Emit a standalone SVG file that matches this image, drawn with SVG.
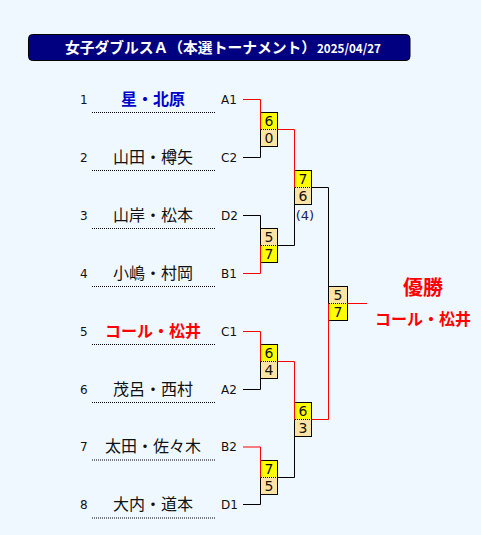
<svg xmlns="http://www.w3.org/2000/svg" width="481" height="535" viewBox="0 0 481 535">
<style>
.num{font-family:"DejaVu Sans",Verdana,sans-serif;font-size:12px;fill:#111}
.seed{font-family:"DejaVu Sans",Verdana,sans-serif;font-size:12px;fill:#111}
.name{font-family:"Noto Sans CJK JP",sans-serif;font-size:16px;fill:#111;text-anchor:middle}
.dot{stroke:#000;stroke-width:1;stroke-dasharray:1,1;fill:none}
.sc{font-family:"DejaVu Sans",Verdana,sans-serif;font-size:14px;fill:#111;text-anchor:middle}
.win{fill:#ffff00}
.lose{fill:#ffe4a3}
.frame{fill:none;stroke:#000;stroke-width:1}
.mid{stroke:#000;stroke-width:1;stroke-dasharray:1,1}
.blk{fill:none;stroke:#000;stroke-width:1}
.red{fill:none;stroke:#ff0000;stroke-width:1}
</style>
<rect x="0" y="0" width="481" height="535" fill="#f0f8ff"/>
<g id="title">
<rect x="28.5" y="34.5" width="381.5" height="26" rx="4" fill="#000080" stroke="#000" stroke-width="1"/>
<text x="65" y="52.5" font-family="Noto Sans CJK JP,sans-serif" font-weight="bold" fill="#fff" font-size="14.8px" textLength="251" lengthAdjust="spacingAndGlyphs">女子ダブルスＡ（本選トーナメント）</text>
<text x="317" y="52.5" font-family="Noto Sans CJK JP,sans-serif" font-weight="bold" fill="#fff" font-size="12.5px" textLength="64" lengthAdjust="spacingAndGlyphs">2025/04/27</text>
</g>
<g id="entries">
<g id="p1"><text class="num" x="80" y="103.5">1</text><text class="name" x="153" y="104.5" font-weight="bold" style="fill:#0000cd">星・北原</text><text class="seed" x="221" y="103.5">A1</text><line class="dot" x1="92" y1="112.5" x2="215" y2="112.5"/></g>
<g id="p2"><text class="num" x="80" y="161.5">2</text><text class="name" x="153" y="162.5">山田・樽矢</text><text class="seed" x="221" y="161.5">C2</text><line class="dot" x1="92" y1="170.5" x2="215" y2="170.5"/></g>
<g id="p3"><text class="num" x="80" y="219.5">3</text><text class="name" x="153" y="220.5">山岸・松本</text><text class="seed" x="221" y="219.5">D2</text><line class="dot" x1="92" y1="228.5" x2="215" y2="228.5"/></g>
<g id="p4"><text class="num" x="80" y="277.5">4</text><text class="name" x="153" y="278.5">小嶋・村岡</text><text class="seed" x="221" y="277.5">B1</text><line class="dot" x1="92" y1="286.5" x2="215" y2="286.5"/></g>
<g id="p5"><text class="num" x="80" y="335.5">5</text><text class="name" x="153" y="336.5" font-weight="bold" style="fill:#ff0000">コール・松井</text><text class="seed" x="221" y="335.5">C1</text><line class="dot" x1="92" y1="344.5" x2="215" y2="344.5"/></g>
<g id="p6"><text class="num" x="80" y="393.5">6</text><text class="name" x="153" y="394.5">茂呂・西村</text><text class="seed" x="221" y="393.5">A2</text><line class="dot" x1="92" y1="402.5" x2="215" y2="402.5"/></g>
<g id="p7"><text class="num" x="80" y="451">7</text><text class="name" x="153" y="452">太田・佐々木</text><text class="seed" x="221" y="451">B2</text><line class="dot" x1="92" y1="460" x2="215" y2="460"/></g>
<g id="p8"><text class="num" x="80" y="509">8</text><text class="name" x="153" y="510">大内・道本</text><text class="seed" x="221" y="509">D1</text><line class="dot" x1="92" y1="518" x2="215" y2="518"/></g>
</g>
<g id="m1"><rect class="win" x="260.5" y="112.5" width="17" height="17"/><rect class="lose" x="260.5" y="129.5" width="17" height="17"/><rect class="frame" x="260.5" y="112.5" width="17" height="34"/><line class="mid" x1="261" y1="129.5" x2="277" y2="129.5"/><text class="sc" x="269" y="126">6</text><text class="sc" x="269" y="143">0</text></g>
<g id="m2"><rect class="lose" x="260.5" y="228.5" width="17" height="17"/><rect class="win" x="260.5" y="245.5" width="17" height="17"/><rect class="frame" x="260.5" y="228.5" width="17" height="34"/><line class="mid" x1="261" y1="245.5" x2="277" y2="245.5"/><text class="sc" x="269" y="242">5</text><text class="sc" x="269" y="259">7</text></g>
<g id="m3"><rect class="win" x="260.5" y="344.5" width="17" height="17"/><rect class="lose" x="260.5" y="361.5" width="17" height="17"/><rect class="frame" x="260.5" y="344.5" width="17" height="34"/><line class="mid" x1="261" y1="361.5" x2="277" y2="361.5"/><text class="sc" x="269" y="358">6</text><text class="sc" x="269" y="375">4</text></g>
<g id="m4"><rect class="win" x="260.5" y="460.5" width="17" height="17"/><rect class="lose" x="260.5" y="477.5" width="17" height="17"/><rect class="frame" x="260.5" y="460.5" width="17" height="34"/><line class="mid" x1="261" y1="477.5" x2="277" y2="477.5"/><text class="sc" x="269" y="474">7</text><text class="sc" x="269" y="491">5</text></g>
<g id="sf1"><rect class="win" x="294.5" y="170.5" width="17" height="17"/><rect class="lose" x="294.5" y="187.5" width="17" height="17"/><rect class="frame" x="294.5" y="170.5" width="17" height="34"/><line class="mid" x1="295" y1="187.5" x2="311" y2="187.5"/><text class="sc" x="303" y="184">7</text><text class="sc" x="303" y="201">6</text><text x="305" y="220" font-family="DejaVu Sans,Verdana,sans-serif" font-size="13px" fill="#202060" text-anchor="middle">(4)</text></g>
<g id="sf2"><rect class="win" x="294.5" y="402.5" width="17" height="17"/><rect class="lose" x="294.5" y="419.5" width="17" height="17"/><rect class="frame" x="294.5" y="402.5" width="17" height="34"/><line class="mid" x1="295" y1="419.5" x2="311" y2="419.5"/><text class="sc" x="303" y="416">6</text><text class="sc" x="303" y="433">3</text></g>
<g id="final"><rect class="lose" x="328.5" y="286.5" width="19" height="17"/><rect class="win" x="328.5" y="303.5" width="19" height="17"/><rect class="frame" x="328.5" y="286.5" width="19" height="34"/><line class="mid" x1="329" y1="303.5" x2="347" y2="303.5"/><text class="sc" x="338" y="300">5</text><text class="sc" x="338" y="317">7</text></g>
<g id="connectors">
<path class="blk" d="M243,157.5H260.5V129.5"/>
<path class="blk" d="M243,215.5H260.5V245.5"/>
<path class="blk" d="M277.5,245.5H294.5V187.5"/>
<path class="blk" d="M311.5,187.5H328.5V303.5"/>
<path class="blk" d="M243,389.5H260.5V361.5"/>
<path class="blk" d="M243,504.5H260.5V477.5"/>
<path class="blk" d="M277.5,477.5H294.5V419.5"/>
<path class="red" d="M243,99.5H260.5V129.5"/>
<path class="red" d="M277.5,129.5H294.5V187.5"/>
<path class="red" d="M243,273.5H260.5V245.5"/>
<path class="red" d="M243,331.5H260.5V361.5"/>
<path class="red" d="M277.5,361.5H294.5V419.5"/>
<path class="red" d="M243,447H260.5V477.5"/>
<path class="red" d="M311.5,419.5H328.5V303.5"/>
<path class="red" d="M347.5,303.5H367"/>
</g>
<g id="champion">
<text x="423" y="295" font-family="Noto Sans CJK JP,sans-serif" font-size="20px" font-weight="bold" fill="#ff0000" text-anchor="middle">優勝</text>
<text x="423" y="324.5" font-family="Noto Sans CJK JP,sans-serif" font-size="16px" font-weight="bold" fill="#ff0000" text-anchor="middle">コール・松井</text>
</g>
</svg>
